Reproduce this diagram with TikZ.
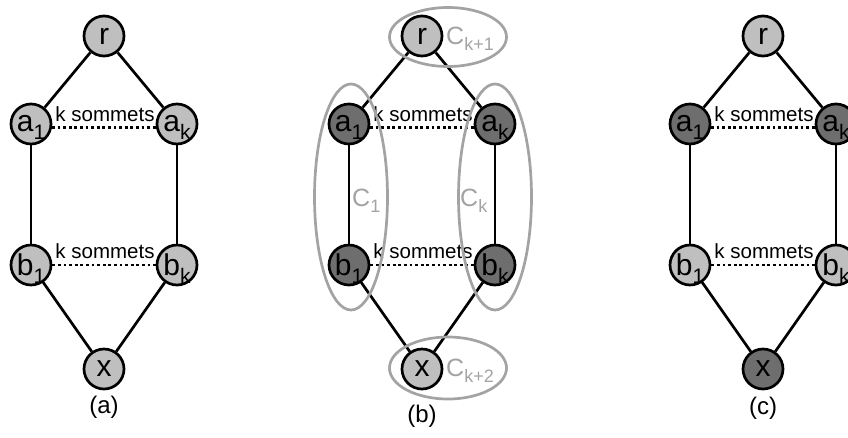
\documentclass[tikz,border=0pt]{standalone}
\usepackage{fontspec}
\setmainfont{Liberation Sans}
\usetikzlibrary{shapes.geometric}
\definecolor{vlight}{gray}{0.75}
\definecolor{vdark}{gray}{0.43}
\definecolor{grpgray}{gray}{0.64}
\newcommand\lowidx[2][21]{\raisebox{-0.25em}[0pt][0pt]{\fontsize{#1}{#1}\selectfont #2}}
\tikzset{
  vtx/.style={circle, draw=black, line width=2.7pt, fill=vlight, minimum size=40pt, inner sep=0pt, font=\fontsize{30}{30}\selectfont},
  graphedge/.style={line width=2.7pt},
  dotedge/.style={line width=2.8pt, dash pattern=on 2.8pt off 2.8pt},
  sommetslabel/.style={anchor=base, inner sep=0pt, font=\fontsize{20.5}{20.5}\selectfont},
  grpell/.style={ellipse, draw=grpgray, line width=2.7pt, inner sep=0pt},
  grplabel/.style={anchor=west, inner sep=0pt, text=grpgray, font=\fontsize{25}{25}\selectfont},
  captionlabel/.style={inner sep=0pt, font=\fontsize{24}{24}\selectfont},
}

\begin{document}
\begin{tikzpicture}[x=1pt, y=-1pt]
  \useasboundingbox (0,0) rectangle (848,437);
  \clip (0,0) rectangle (848,437);
  % one graph per panel: centre x, tag, caption y, fills of a/b/x
  \foreach \cx/\tag/\capy/\afill/\bfill/\xfill in {104/a/407/vlight/vlight/vlight, 422/b/416/vdark/vdark/vlight, 763/c/408/vdark/vlight/vdark}{
    \node[sommetslabel] (ka-\tag) at (\cx+1,121) {k sommets};
    \node[sommetslabel] (kb-\tag) at (\cx+1,258) {k sommets};
    \node[vtx] (r-\tag) at (\cx,36) {r};
    \node[vtx, fill=\afill] (a1-\tag) at (\cx-73,124) {a\lowidx{1}};
    \node[vtx, fill=\afill] (ak-\tag) at (\cx+73,124) {a\lowidx{k}};
    \node[vtx, fill=\bfill] (b1-\tag) at (\cx-73,265) {b\lowidx{1}};
    \node[vtx, fill=\bfill] (bk-\tag) at (\cx+73,265) {b\lowidx{k}};
    \node[vtx, fill=\xfill] (x-\tag) at (\cx,369) {x};
    \node[captionlabel] (cap-\tag) at (\cx,\capy) {(\tag)};
    \draw[graphedge] (r-\tag) -- (a1-\tag);
    \draw[graphedge] (r-\tag) -- (ak-\tag);
    \draw[graphedge] (a1-\tag) -- (b1-\tag);
    \draw[graphedge] (ak-\tag) -- (bk-\tag);
    \draw[graphedge] (b1-\tag) -- (x-\tag);
    \draw[graphedge] (bk-\tag) -- (x-\tag);
    \draw[dotedge] (a1-\tag.-10) -- (ak-\tag.-170);
    \draw[dotedge] (b1-\tag) -- (bk-\tag);
  }
  % colour classes of panel (b)
  \node[grpell, minimum width=117pt, minimum height=59pt] (ctop) at (448,37) {};
  \node[grpell, minimum width=117pt, minimum height=62pt] (cbot) at (448,368) {};
  \node[grpell, minimum width=73pt, minimum height=226pt] (cone) at (351,197) {};
  \node[grpell, minimum width=73pt, minimum height=226pt] (ckay) at (495,197) {};
  \node[grplabel] (ltop) at (446,36) {C\lowidx[18]{k+1}};
  \node[grplabel] (lbot) at (446,368) {C\lowidx[18]{k+2}};
  \node[grplabel] (lone) at (352,198) {C\lowidx[18]{1}};
  \node[grplabel] (lkay) at (460,198) {C\lowidx[18]{k}};
\end{tikzpicture}
\end{document}
